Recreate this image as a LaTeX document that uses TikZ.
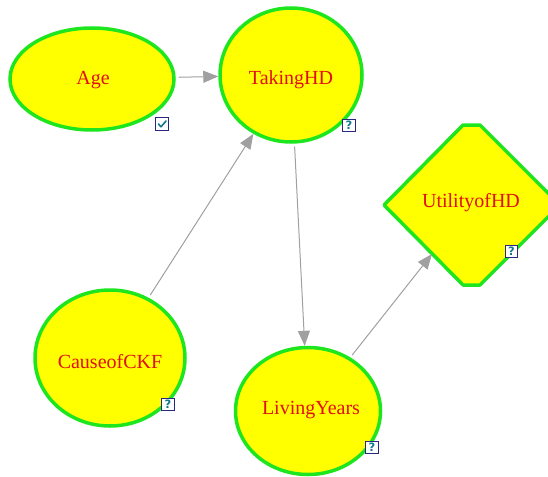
\documentclass[tikz,border=0pt]{standalone}
\usepackage{fontspec}
\setmainfont{Liberation Serif}
\newfontfamily\boxfont{DejaVu Sans}
\usetikzlibrary{shapes.geometric,arrows.meta,calc}
\definecolor{nodegreen}{RGB}{30,230,30}
\definecolor{nodeyellow}{RGB}{255,255,0}
\definecolor{labelred}{RGB}{225,15,15}
\definecolor{edgegray}{RGB}{160,160,160}
\definecolor{boxnavy}{RGB}{40,40,130}
\definecolor{markteal}{RGB}{20,120,140}
\tikzset{
  chance/.style={ellipse, draw=nodegreen, fill=nodeyellow, line width=3.5pt, inner sep=0pt},
  lbl/.style={text=labelred, font=\fontsize{20}{22}\selectfont},
  edge/.style={draw=edgegray, line width=1pt, -{Triangle[length=15pt,width=12pt]}, shorten <=3pt},
  qbox/.style={draw=boxnavy, line width=1.3pt, fill=white, minimum size=12.5pt, inner sep=0pt,
    text=markteal, font=\boxfont\bfseries\fontsize{11.5}{11.5}\selectfont},
}
\begin{document}
\begin{tikzpicture}[x=1pt,y=-1pt]
\useasboundingbox (0,0) rectangle (548,476);
\begin{scope}
\clip (0,0) rectangle (548,476);
% nodes
\node[chance, minimum width=164pt, minimum height=102pt] (age) at (92,79) {};
\node[chance, minimum width=142pt, minimum height=134pt] (taking) at (291,75) {};
\node[chance, minimum width=150pt, minimum height=136pt] (cause) at (110,358) {};
\node[chance, minimum width=145pt, minimum height=127pt] (living) at (308,411) {};
% utility node (truncated diamond)
\draw[draw=nodegreen, fill=nodeyellow, line width=3.5pt, line join=round]
  (384,205) -- (463,125) -- (480,125) -- (560,205) -- (480,285) -- (463,285) -- cycle;
\end{scope}
\coordinate (uedge) at (432,254);
% labels
\node[lbl] (agel) at (93,80) {Age};
\node[lbl] (takingl) at (291,80) {TakingHD};
\node[lbl] (causel) at (110,362) {CauseofCKF};
\node[lbl] (livingl) at (311,410) {LivingYears};
\node[lbl] (utill) at (471,203) {UtilityofHD};
% boxes
\node[qbox] (agebox) at (162,124) {};
\draw[markteal, line width=1.6pt, line cap=round, line join=round]
  ($(agebox.center)+(-3.5,0)$) -- ($(agebox.center)+(-1,2.8)$) -- ($(agebox.center)+(4,-3)$);
\node[qbox] (takingbox) at (349,125.5) {?};
\node[qbox] (causebox) at (168,404.5) {?};
\node[qbox] (livingbox) at (372,447.5) {?};
\node[qbox] (utilbox) at (511.5,251.5) {?};
% edges
\draw[edge] (age) -- (taking);
\draw[edge] (cause) -- (taking);
\draw[edge] (taking) -- (living);
\draw[edge] (living) -- (uedge);
\end{tikzpicture}
\end{document}
